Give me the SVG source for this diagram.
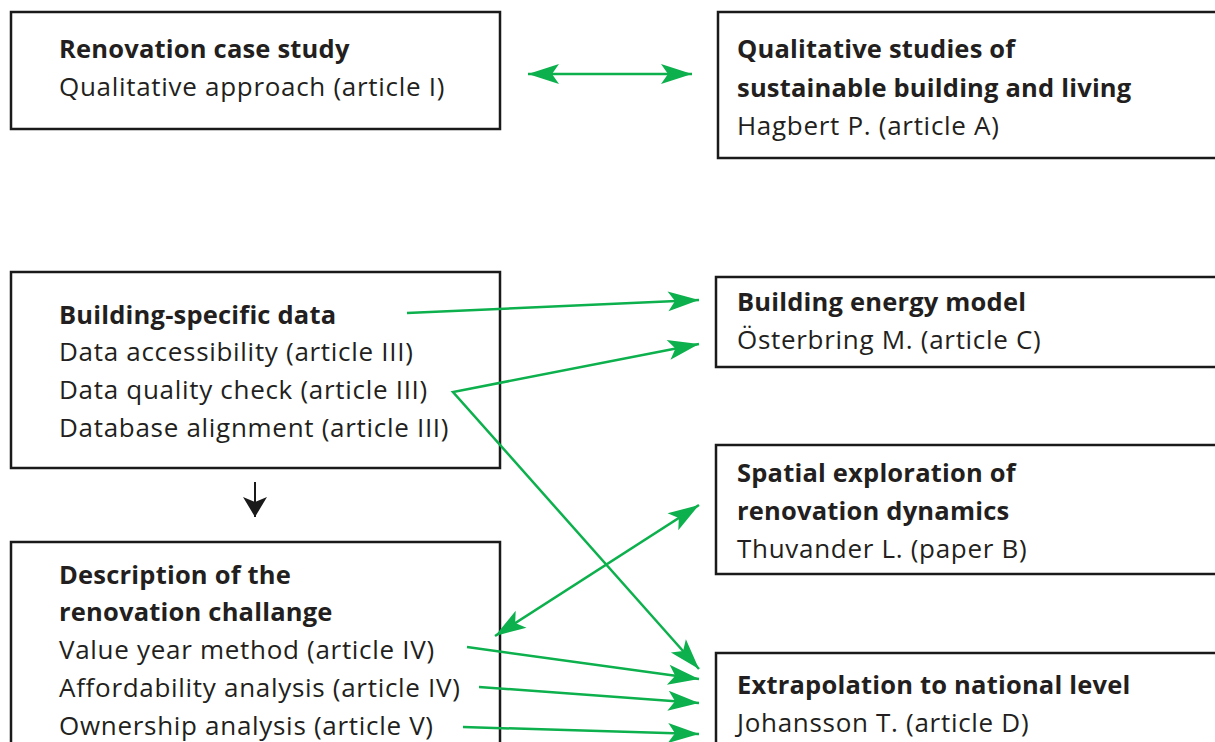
<svg xmlns="http://www.w3.org/2000/svg" width="1215" height="742" viewBox="0 0 1215 742">
<defs>
<style>
.box{fill:#fff;stroke:#1a1a1a;stroke-width:2.5}
text{font-family:"Open Sans","Noto Sans",sans-serif;font-size:26px;letter-spacing:0.7px;fill:#231f20}
.b{font-weight:bold;font-size:25.5px;letter-spacing:0.2px}
.g{fill:none;stroke:#0cb04c;stroke-width:2.5}
.k{fill:none;stroke:#1a1a1a;stroke-width:2}
</style>
<marker id="ah" markerUnits="userSpaceOnUse" viewBox="-32 -11 33 22" refX="0" refY="0" markerWidth="33" markerHeight="22" orient="auto-start-reverse">
<path d="M0,0 L-31,-10 L-24,0 L-31,10 Z" fill="#0cb04c"/>
</marker>
<marker id="bh" markerUnits="userSpaceOnUse" viewBox="-20 -13 21 26" refX="0" refY="0" markerWidth="21" markerHeight="26" orient="auto">
<path d="M0,0 L-20,-12 L-15,0 L-20,12 Z" fill="#1a1a1a"/>
</marker>
</defs>
<g id="n1"><rect class="box" x="11" y="12" width="489" height="117"/>
<text x="59" y="58" class="b">Renovation case study</text>
<text x="59" y="96">Qualitative approach (article I)</text></g>
<g id="n2"><rect class="box" x="718" y="12" width="510" height="146"/>
<text x="737" y="58" class="b">Qualitative studies of</text>
<text x="737" y="97" class="b">sustainable building and living</text>
<text x="737" y="135">Hagbert P. (article A)</text></g>
<g id="n3"><rect class="box" x="11" y="272" width="489" height="196"/>
<text x="59" y="324" class="b">Building-specific data</text>
<text x="59" y="361">Data accessibility (article III)</text>
<text x="59" y="399">Data quality check (article III)</text>
<text x="59" y="437">Database alignment (article III)</text></g>
<g id="n4"><rect class="box" x="11" y="542" width="489" height="220"/>
<text x="59" y="584" class="b">Description of the</text>
<text x="59" y="621" class="b">renovation challange</text>
<text x="59" y="659">Value year method (article IV)</text>
<text x="59" y="697">Affordability analysis (article IV)</text>
<text x="59" y="735">Ownership analysis (article V)</text></g>
<g id="n5"><rect class="box" x="716" y="277" width="510" height="90"/>
<text x="737" y="311" class="b">Building energy model</text>
<text x="737" y="349">Österbring M. (article C)</text></g>
<g id="n6"><rect class="box" x="716" y="445" width="510" height="129"/>
<text x="737" y="482" class="b">Spatial exploration of</text>
<text x="737" y="520" class="b">renovation dynamics</text>
<text x="737" y="558">Thuvander L. (paper B)</text></g>
<g id="n7"><rect class="box" x="716" y="653" width="510" height="110"/>
<text x="737" y="694" class="b">Extrapolation to national level</text>
<text x="737" y="732">Johansson T. (article D)</text></g>
<g id="connectors">
<line class="g" x1="528" y1="74" x2="692" y2="74" marker-start="url(#ah)" marker-end="url(#ah)"/>
<line class="g" x1="407" y1="313" x2="699" y2="300" marker-end="url(#ah)"/>
<polyline class="g" points="699,344 453,392 699,669" marker-start="url(#ah)" marker-end="url(#ah)"/>
<line class="g" x1="495" y1="636" x2="699" y2="505" marker-start="url(#ah)" marker-end="url(#ah)"/>
<line class="g" x1="467" y1="647" x2="699" y2="679" marker-end="url(#ah)"/>
<line class="g" x1="479" y1="687" x2="699" y2="703" marker-end="url(#ah)"/>
<line class="g" x1="463" y1="727" x2="699" y2="734" marker-end="url(#ah)"/>
<line class="k" x1="255" y1="482" x2="255" y2="517" marker-end="url(#bh)"/>
</g>
</svg>
